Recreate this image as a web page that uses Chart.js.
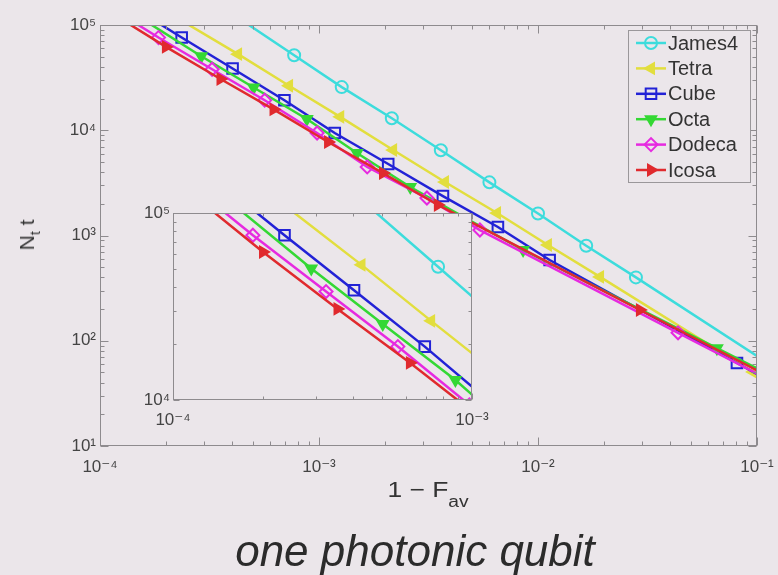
<!DOCTYPE html>
<html>
<head>
<meta charset="utf-8">
<script src="https://cdn.jsdelivr.net/npm/chart.js@4.4.1/dist/chart.umd.min.js"></script>
<style>
html, body { margin: 0; padding: 0; background: #ebe6ea; }
#wrap { position: relative; width: 778px; height: 575px; overflow: hidden; font-family: "Liberation Sans", Arial, sans-serif; }
#main { position: absolute; left: 0; top: 0; }
#inset { position: absolute; left: 120px; top: 195px; }
.lbl { position: absolute; color: #333; white-space: nowrap; }
#ytitle { left: 27px; top: 235px; font-size: 21px; transform: translate(-50%, -50%) rotate(-90deg); }
#xtitle { left: 428px; top: 477px; font-size: 22px; transform: translateX(-50%) scaleX(1.2); }
#caption { left: 415px; top: 526px; font-size: 44px; font-style: italic; color: #2b2b2b; transform: translateX(-50%); }
</style>
</head>
<body>
<div id="wrap">
  <canvas id="main" width="778" height="575"></canvas>
  <canvas id="inset" width="380" height="245"></canvas>
  <div class="lbl" id="ytitle">N<span style="font-size:14px;position:relative;top:6px">t</span> t</div>
  <div class="lbl" id="xtitle">1 &minus; F<span style="font-size:16px;position:relative;top:10px">av</span></div>
  <div class="lbl" id="caption">one photonic qubit</div>
</div>
<script>
const FONT = '"Liberation Sans", "DejaVu Sans", Arial, sans-serif';
const BG = '#ebe6ea';

const seriesNames = ['James4', 'Tetra', 'Cube', 'Octa', 'Dodeca', 'Icosa'];

// first and last entry of every series only carry the line out to the frame (no marker there)
const james4X = [4.2e-4, 7.7e-4, 1.27e-3, 2.15e-3, 3.6e-3, 6.0e-3, 1.0e-2, 1.66e-2, 2.8e-2, 0.12];
const james4Y = [1.2e5, 51600, 25700, 13000, 6460, 3200, 1620, 800, 400, 56];
const tetraX = [2.2e-4, 4.27e-4, 7.3e-4, 1.25e-3, 2.18e-3, 3.76e-3, 6.5e-3, 1.11e-2, 1.92e-2, 9.6e-2, 0.12];
const tetraY = [1.2e5, 52800, 26500, 13400, 6490, 3220, 1635, 813, 404, 50.5, 38];
const cubeX = [1.66e-4, 2.36e-4, 4.03e-4, 6.95e-4, 1.18e-3, 2.07e-3, 3.68e-3, 6.56e-3, 1.13e-2, 8.1e-2, 0.12];
const cubeY = [1.2e5, 76000, 38600, 19300, 9410, 4780, 2370, 1205, 585, 61.5, 39];
const octaX = [1.5e-4, 2.9e-4, 5.03e-4, 8.8e-4, 1.49e-3, 2.61e-3, 4.65e-3, 8.55e-3, 6.56e-2, 0.12];
const octaY = [1.2e5, 50500, 25500, 12800, 6080, 2890, 1470, 728, 85, 45];
const dodecaX = [1.3e-4, 1.85e-4, 3.25e-4, 5.65e-4, 9.8e-4, 1.66e-3, 3.11e-3, 5.43e-3, 4.36e-2, 0.12];
const dodecaY = [1.2e5, 76000, 38000, 19300, 9420, 4480, 2270, 1127, 119, 40];
const icosaX = [1.2e-4, 2.0e-4, 3.55e-4, 6.2e-4, 1.1e-3, 1.96e-3, 3.49e-3, 2.92e-2, 0.12];
const icosaY = [1.2e5, 61900, 30700, 15800, 7730, 3920, 1950, 196, 43];

// axis ticks (decades only)
const mainXTicks = [1e-4, 1e-3, 1e-2, 1e-1];
const mainYTicks = [1e1, 1e2, 1e3, 1e4, 1e5];
const insetXTicks = [1e-4, 1e-3];
const insetYTicks = [1e4, 1e5];

const seriesX = [james4X, tetraX, cubeX, octaX, dodecaX, icosaX];
const seriesY = [james4Y, tetraY, cubeY, octaY, dodecaY, icosaY];

// marker look for each series, in legend order
const looks = [
    { color: '#3ddcdc', style: 'circle', rot: 0, r: 6, fill: false },
    { color: '#e2de3e', style: 'triangle', rot: 270, r: 6, fill: true },
    { color: '#2222d6', style: 'rect', rot: 0, r: 7.5, fill: false },
    { color: '#34d834', style: 'triangle', rot: 180, r: 6, fill: true },
    { color: '#e62ae0', style: 'rectRot', rot: 0, r: 6.5, fill: false },
    { color: '#e02a2e', style: 'triangle', rot: 90, r: 6, fill: true }
];

const SUP = { '-': '\u207B', '0': '\u2070', '1': '\u00B9', '2': '\u00B2', '3': '\u00B3', '4': '\u2074', '5': '\u2075' };
function decadeLabel(v) {
    const e = Math.round(Math.log10(v));
    return '10' + String(e).split('').map(c => SUP[c]).join('');
}

function logMarks(min, max) {
    const out = [];
    for (let e = Math.floor(Math.log10(min)); e <= Math.ceil(Math.log10(max)); e++) {
        for (let m = 1; m < 10; m++) {
            const v = m * Math.pow(10, e);
            if (v >= min * 0.999 && v <= max * 1.001) out.push({ v: v, major: m === 1 });
        }
    }
    return out;
}

// fills the plot box, then draws the box and inward ticks like matlab
const frame = {
    id: 'frame',
    beforeDatasetsDraw(chart, args, opts) {
        const a = chart.chartArea, ctx = chart.ctx;
        ctx.save();
        ctx.fillStyle = opts.fill;
        ctx.fillRect(a.left, a.top, a.right - a.left, a.bottom - a.top);
        ctx.restore();
    },
    afterDatasetsDraw(chart, args, opts) {
        const ctx = chart.ctx, a = chart.chartArea, x = chart.scales.x, y = chart.scales.y;
        const L = Math.round(a.left) + 0.5, R = Math.round(a.right) - 0.5;
        const T = Math.round(a.top) + 0.5, B = Math.round(a.bottom) - 0.5;
        ctx.save();
        ctx.strokeStyle = opts.color;
        ctx.lineWidth = 1;
        ctx.strokeRect(L, T, R - L, B - T);
        ctx.beginPath();
        logMarks(x.min, x.max).forEach(m => {
            const p = Math.round(x.getPixelForValue(m.v)) + 0.5;
            const len = m.major ? opts.major : opts.minor;
            ctx.moveTo(p, B); ctx.lineTo(p, B - len);
            ctx.moveTo(p, T); ctx.lineTo(p, T + len);
        });
        logMarks(y.min, y.max).forEach(m => {
            const p = Math.round(y.getPixelForValue(m.v)) + 0.5;
            const len = m.major ? opts.major : opts.minor;
            ctx.moveTo(L, p); ctx.lineTo(L + len, p);
            ctx.moveTo(R, p); ctx.lineTo(R - len, p);
        });
        ctx.stroke();
        ctx.restore();
    }
};

// matlab style legend box in the upper right corner of the main axes
const boxLegend = {
    id: 'boxLegend',
    afterDraw(chart, args, opts) {
        const ctx = chart.ctx;
        ctx.save();
        ctx.fillStyle = BG;
        ctx.strokeStyle = '#9a979a';
        ctx.lineWidth = 1;
        ctx.fillRect(opts.left, opts.top, opts.width, opts.height);
        ctx.strokeRect(opts.left + 0.5, opts.top + 0.5, opts.width, opts.height);
        ctx.font = '20px ' + FONT;
        ctx.textBaseline = 'middle';
        seriesNames.forEach((name, i) => {
            const lk = looks[i];
            const cy = opts.top + 13 + i * 25.4;
            ctx.strokeStyle = lk.color;
            ctx.lineWidth = 2.5;
            ctx.beginPath();
            ctx.moveTo(opts.left + 8, cy);
            ctx.lineTo(opts.left + 38, cy);
            ctx.stroke();
            ctx.fillStyle = lk.fill ? lk.color : 'rgba(0,0,0,0)';
            ctx.lineWidth = 2;
            Chart.helpers.drawPoint(ctx, { pointStyle: lk.style, rotation: lk.rot, radius: lk.r, borderWidth: 2 }, opts.left + 23, cy);
            ctx.fillStyle = '#333';
            ctx.fillText(name, opts.left + 40, cy + 1);
        });
        ctx.restore();
    }
};

function makeDatasets() {
    return seriesNames.map((name, i) => {
        const xs = seriesX[i], ys = seriesY[i], lk = looks[i];
        const last = xs.length - 1;
        return {
            label: name,
            data: xs.map((v, j) => ({ x: v, y: ys[j] })),
            borderColor: lk.color,
            borderWidth: 2.5,
            pointBorderColor: lk.color,
            pointBackgroundColor: lk.fill ? lk.color : 'rgba(0,0,0,0)',
            pointBorderWidth: 2,
            pointStyle: lk.style,
            pointRotation: lk.rot,
            pointRadius: c => (c.dataIndex === 0 || c.dataIndex === last) ? 0 : lk.r,
            tension: 0,
            order: seriesNames.length - i
        };
    });
}

function makeScales(cfg) {
    const tickFont = { size: 17, family: FONT };
    return {
        x: {
            type: 'logarithmic', min: cfg.xMin, max: cfg.xMax,
            afterBuildTicks: s => { s.ticks = cfg.xTicks.map(v => ({ value: v })); },
            afterFit: s => { s.height = cfg.xHeight; s.paddingLeft = 0; s.paddingRight = 0; },
            grid: { display: false, drawTicks: false },
            border: { display: false },
            ticks: { callback: v => decadeLabel(v), font: tickFont, color: '#444', padding: cfg.xPad, autoSkip: false, maxRotation: 0 }
        },
        y: {
            type: 'logarithmic', min: cfg.yMin, max: cfg.yMax,
            afterBuildTicks: s => { s.ticks = cfg.yTicks.map(v => ({ value: v })); },
            afterFit: s => { s.width = cfg.yWidth; s.paddingTop = 0; s.paddingBottom = 0; },
            grid: { display: false, drawTicks: false },
            border: { display: false },
            ticks: { callback: v => decadeLabel(v), font: tickFont, color: '#444', padding: cfg.yPad, autoSkip: false }
        }
    };
}

const mainChart = new Chart(document.getElementById('main'), {
    type: 'line',
    data: { datasets: makeDatasets() },
    options: {
        responsive: false,
        animation: false,
        events: [],
        devicePixelRatio: 1,
        layout: { padding: { left: 0, right: 21, top: 25, bottom: 0 } },
        scales: makeScales({
            xMin: 1e-4, xMax: 1e-1, yMin: 10, yMax: 1e5,
            xTicks: mainXTicks, yTicks: mainYTicks,
            xHeight: 575 - 446, yWidth: 100, xPad: 11, yPad: 4
        }),
        plugins: {
            legend: { display: false },
            tooltip: { enabled: false },
            frame: { fill: BG, color: '#8e8b8e', major: 8, minor: 4 },
            boxLegend: { left: 628, top: 30, width: 122, height: 152 }
        }
    },
    plugins: [frame, boxLegend]
});

const insetChart = new Chart(document.getElementById('inset'), {
    type: 'line',
    data: { datasets: makeDatasets() },
    options: {
        responsive: false,
        animation: false,
        events: [],
        devicePixelRatio: 1,
        layout: { padding: { left: 0, right: 28, top: 18, bottom: 0 } },
        scales: makeScales({
            xMin: 1e-4, xMax: 1e-3, yMin: 1e4, yMax: 1e5,
            xTicks: insetXTicks, yTicks: insetYTicks,
            xHeight: 40, yWidth: 53, xPad: 10, yPad: 3
        }),
        plugins: {
            legend: { display: false },
            tooltip: { enabled: false },
            frame: { fill: BG, color: '#8e8b8e', major: 6, minor: 3 }
        }
    },
    plugins: [frame]
});
</script>
</body>
</html>
